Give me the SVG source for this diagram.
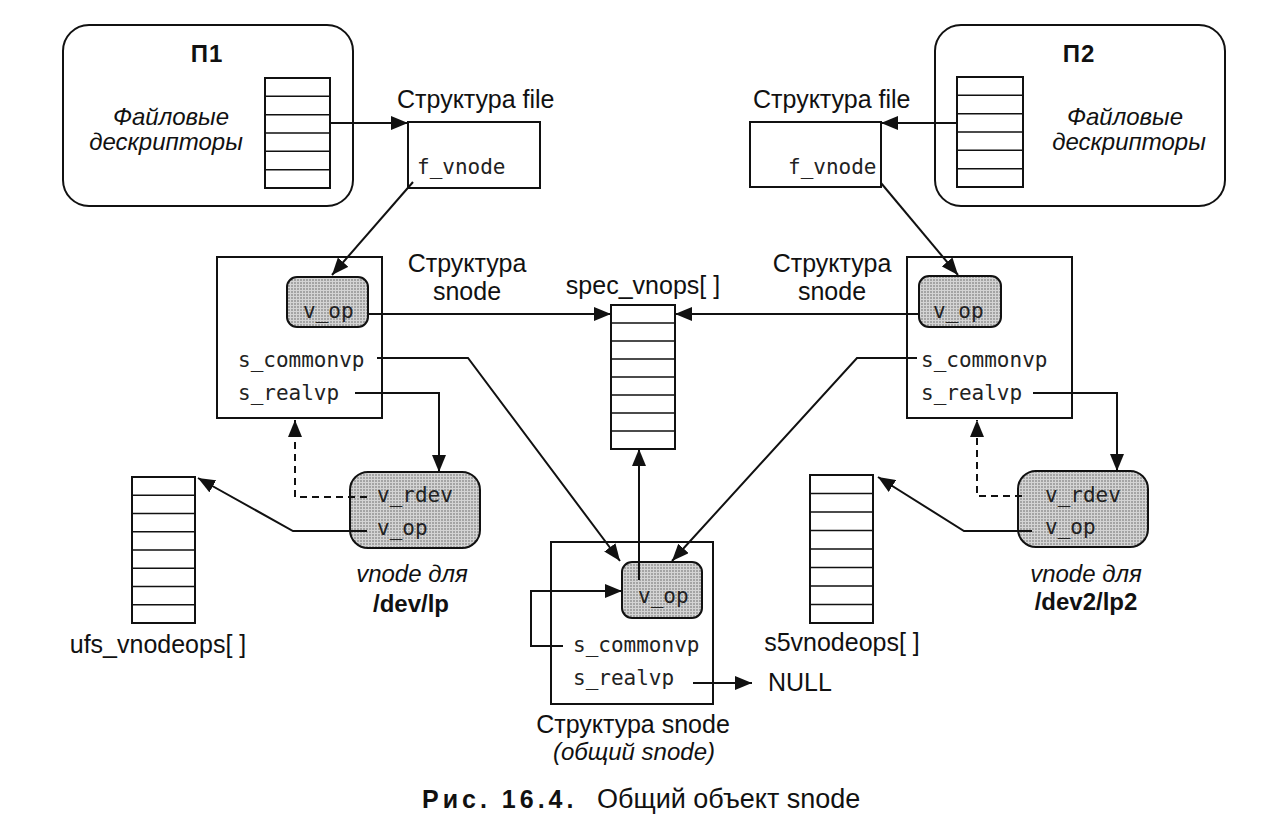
<svg xmlns="http://www.w3.org/2000/svg" width="1283" height="822" viewBox="0 0 1283 822">
<style>
.box{fill:#fff;stroke:#111;stroke-width:2}
.proc{fill:#fff;stroke:#111;stroke-width:2}
.shade{fill:url(#dots);stroke:#111;stroke-width:2}
.tbl{fill:#fff;stroke:#111;stroke-width:2}
.row{stroke:#111;stroke-width:1.6}
.ln{fill:none;stroke:#111;stroke-width:2}
.dash{fill:none;stroke:#111;stroke-width:2;stroke-dasharray:7,5}
.s{font-family:"Liberation Sans",Arial,sans-serif;font-size:25px;fill:#111}
.i{font-family:"Liberation Sans",Arial,sans-serif;font-size:24px;font-style:italic;fill:#111}
.b{font-family:"Liberation Sans",Arial,sans-serif;font-size:24px;font-weight:bold;fill:#111}
.m{font-family:"DejaVu Sans Mono",monospace;font-size:21px;fill:#222}
</style>
<defs>
<pattern id="dots" width="3" height="3" patternUnits="userSpaceOnUse">
<rect width="3" height="3" fill="#d4d4d4"/>
<circle cx="1" cy="1" r="0.8" fill="#666"/>
</pattern>
<marker id="ah" markerUnits="userSpaceOnUse" markerWidth="18" markerHeight="14" refX="17" refY="7" orient="auto">
<path d="M0,0 L17,7 L0,14 z" fill="#111"/>
</marker>
</defs>

<g id="p1">
<rect class="proc" x="63" y="25" width="290" height="181" rx="26"/>
<text class="b" x="207" y="62" text-anchor="middle" font-size="22" letter-spacing="1">П1</text>
<text class="i" x="171" y="125" text-anchor="middle" font-size="23">Файловые</text>
<text class="i" x="166" y="150" text-anchor="middle" font-size="23">дескрипторы</text>
<rect class="tbl" x="265" y="78" width="65" height="110"/>
<path class="row" d="M265,96.3H330M265,114.7H330M265,133H330M265,151.3H330M265,169.7H330"/>
</g>

<g id="p2">
<rect class="proc" x="935" y="25" width="290" height="181" rx="26"/>
<text class="b" x="1079" y="62" text-anchor="middle" font-size="22" letter-spacing="1">П2</text>
<text class="i" x="1125" y="125" text-anchor="middle" font-size="23">Файловые</text>
<text class="i" x="1129" y="150" text-anchor="middle" font-size="23">дескрипторы</text>
<rect class="tbl" x="957" y="77" width="66" height="110"/>
<path class="row" d="M957,95.3H1023M957,113.7H1023M957,132H1023M957,150.3H1023M957,168.7H1023"/>
</g>

<g id="file1">
<text class="s" x="397" y="108">Структура file</text>
<rect class="box" x="408" y="122" width="132" height="66"/>
<text class="m" x="417" y="174">f_vnode</text>
</g>

<g id="file2">
<text class="s" x="753" y="108">Структура file</text>
<rect class="box" x="750" y="122" width="131" height="65"/>
<text class="m" x="788" y="174">f_vnode</text>
</g>

<g id="snode1">
<rect class="box" x="217" y="257" width="165" height="161"/>
<rect class="shade" x="287" y="277" width="81" height="50" rx="10"/>
<text class="m" x="303" y="318">v_op</text>
<text class="m" x="238" y="367">s_commonvp</text>
<text class="m" x="238" y="400">s_realvp</text>
<text class="s" x="467" y="272" text-anchor="middle">Структура</text>
<text class="s" x="467" y="300" text-anchor="middle">snode</text>
</g>

<g id="snode2">
<rect class="box" x="907" y="257" width="165" height="161"/>
<rect class="shade" x="919" y="276" width="82" height="51" rx="10"/>
<text class="m" x="933" y="318">v_op</text>
<text class="m" x="921" y="367">s_commonvp</text>
<text class="m" x="921" y="400">s_realvp</text>
<text class="s" x="832" y="272" text-anchor="middle">Структура</text>
<text class="s" x="832" y="300" text-anchor="middle">snode</text>
</g>

<g id="spec">
<text class="s" x="643" y="294" text-anchor="middle">spec_vnops[ ]</text>
<rect class="tbl" x="611" y="305" width="64" height="144"/>
<path class="row" d="M611,323H675M611,341H675M611,359H675M611,377H675M611,395H675M611,413H675M611,431H675"/>
</g>

<g id="vnode1">
<rect class="shade" x="350" y="472" width="130" height="76" rx="18"/>
<text class="m" x="377" y="502">v_rdev</text>
<text class="m" x="377" y="535">v_op</text>
<text class="i" x="412" y="582" text-anchor="middle">vnode для</text>
<text class="b" x="411" y="612" text-anchor="middle">/dev/lp</text>
</g>

<g id="vnode2">
<rect class="shade" x="1018" y="471" width="130" height="76" rx="18"/>
<text class="m" x="1045" y="502">v_rdev</text>
<text class="m" x="1045" y="534">v_op</text>
<text class="i" x="1086" y="582" text-anchor="middle">vnode для</text>
<text class="b" x="1086" y="610" text-anchor="middle">/dev2/lp2</text>
</g>

<g id="ufs">
<rect class="tbl" x="132" y="477" width="63" height="146"/>
<path class="row" d="M132,495.25H195M132,513.5H195M132,531.75H195M132,550H195M132,568.25H195M132,586.5H195M132,604.75H195"/>
<text class="s" x="158" y="653" text-anchor="middle">ufs_vnodeops[ ]</text>
</g>

<g id="s5">
<rect class="tbl" x="810" y="475" width="63" height="148"/>
<path class="row" d="M810,493.5H873M810,512H873M810,530.5H873M810,549H873M810,567.5H873M810,586H873M810,604.5H873"/>
<text class="s" x="842" y="651" text-anchor="middle">s5vnodeops[ ]</text>
</g>

<g id="common">
<rect class="box" x="551" y="542" width="162" height="162"/>
<rect class="shade" x="622" y="562" width="80" height="56" rx="10"/>
<text class="m" x="638" y="603">v_op</text>
<text class="m" x="573" y="652">s_commonvp</text>
<text class="m" x="573" y="685">s_realvp</text>
<text class="s" x="768" y="691">NULL</text>
<text class="s" x="633" y="733" text-anchor="middle">Структура snode</text>
<text class="i" x="634" y="760" text-anchor="middle">(общий snode)</text>
</g>

<g id="connectors">
<path class="ln" d="M330,123H408" marker-end="url(#ah)"/>
<path class="ln" d="M957,123H881" marker-end="url(#ah)"/>
<path class="ln" d="M413,182L332,275" marker-end="url(#ah)"/>
<path class="ln" d="M881,183L958,275" marker-end="url(#ah)"/>
<path class="ln" d="M368,314H611" marker-end="url(#ah)"/>
<path class="ln" d="M919,314H675" marker-end="url(#ah)"/>
<path class="ln" d="M377,358H468L620,561" marker-end="url(#ah)"/>
<path class="ln" d="M917,358H857L672,561" marker-end="url(#ah)"/>
<path class="ln" d="M355,393H439V472" marker-end="url(#ah)"/>
<path class="ln" d="M1033,393H1117V471" marker-end="url(#ah)"/>
<path class="dash" d="M367,497H295V420" marker-end="url(#ah)"/>
<path class="dash" d="M1022,496H977V420" marker-end="url(#ah)"/>
<path class="ln" d="M367,531H293L198,478" marker-end="url(#ah)"/>
<path class="ln" d="M1032,531H964L878,477" marker-end="url(#ah)"/>
<path class="ln" d="M639,580V449" marker-end="url(#ah)"/>
<path class="ln" d="M563,646H531V591H622" marker-end="url(#ah)"/>
<path class="ln" d="M693,683H752" marker-end="url(#ah)"/>
</g>

<g id="caption">
<text class="s" x="422" y="808" font-size="27"><tspan font-weight="bold" letter-spacing="4">Рис. 16.4.</tspan><tspan x="597" font-size="27">Общий объект snode</tspan></text>
</g>
</svg>
